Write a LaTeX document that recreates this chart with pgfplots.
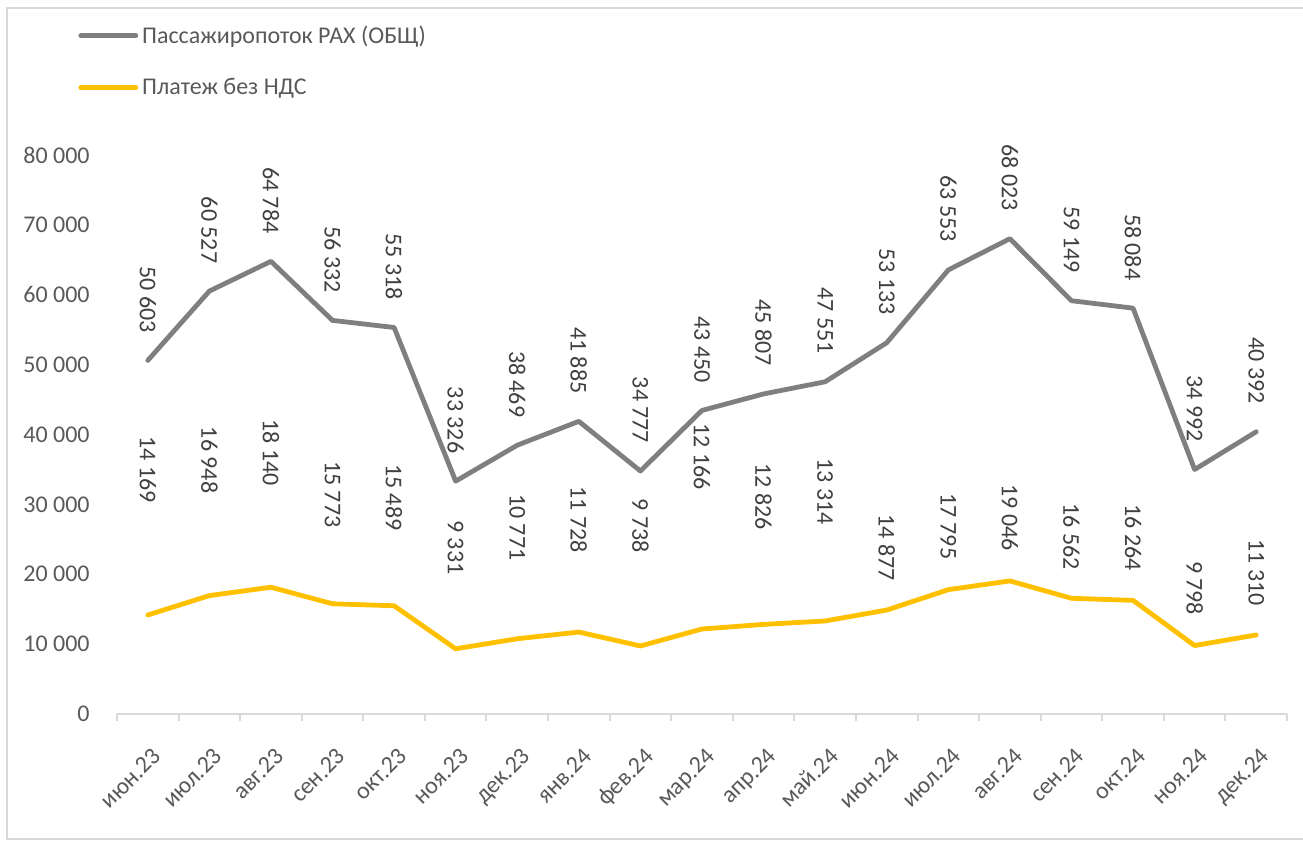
\documentclass[border=0pt]{standalone}
\usepackage{fontspec}
\setmainfont{Carlito}
\usepackage{pgfplots}
\usepackage{pgfplotstable}
\pgfplotsset{compat=1.18}
\definecolor{grayline}{HTML}{7F7F7F}
\definecolor{yellowline}{HTML}{FFC000}
\definecolor{ticktext}{HTML}{595959}
\definecolor{labeltext}{HTML}{404040}
\definecolor{axisgray}{HTML}{D9D9D9}
\pgfplotsset{/pgf/number format/.cd, 1000 sep={\ }, assume math mode=true}
\pgfplotstableread{
x g goff p poff
0 50603 12.75 14169 55
1 60527 12.75 16948 50
2 64784 12.75 18140 49.5
3 56332 12.75 15773 37
4 55318 12.75 15489 36.5
5 33326 12.75 9331 36
6 38469 12.75 10771 38
7 41885 12.75 11728 38.5
8 34777 12.75 9738 45.5
9 43450 12.75 12166 68.5
10 45807 12.75 12826 46
11 47551 12.75 13314 47
12 53133 12.75 14877 13.5
13 63553 12.75 17795 14
14 68023 12.75 19046 14
15 59149 12.75 16562 13
16 58084 12.75 16264 13.5
17 34992 12.75 9798 14
18 40392 12.75 11310 13.5
}\datatable
\begin{document}
\begin{tikzpicture}
\path[use as bounding box] (-58.5pt,-64.5pt) rectangle (593pt,357pt);
\draw[axisgray, line width=1pt] (-55pt,-62.5pt) rectangle (600pt,353pt);
\begin{axis}[
  at={(0,0)}, anchor=south west,
  width=585pt, height=279.5pt, scale only axis,
  xmin=-0.5, xmax=18.5, ymin=0, ymax=80000,
  axis x line*=bottom, axis y line*=left,
  x axis line style={draw=axisgray, line width=1pt},
  y axis line style={draw=none},
  xtick={0,...,18},
  xticklabels={июн.23,июл.23,авг.23,сен.23,окт.23,ноя.23,дек.23,янв.24,фев.24,мар.24,апр.24,май.24,июн.24,июл.24,авг.24,сен.24,окт.24,ноя.24,дек.24},
  minor xtick={-0.5,0.5,...,18.5},
  ytick={0,10000,...,80000},
  scaled y ticks=false,
  major tick length=0pt,
  minor tick length=3.5pt,
  tick align=outside,
  minor tick style={draw=axisgray, line width=1pt},
  major tick style={draw=none},
  ytick style={draw=none},
  tick label style={font=\fontsize{12pt}{14pt}\selectfont, text=ticktext},
  yticklabel style={anchor=east, inner sep=0pt, xshift=-13.5pt},
  xticklabel style={inner sep=0pt, xshift=1.5pt, yshift=-16pt, rotate=45, anchor=north east},
  every node near coord/.style={yshift=\myoff pt, rotate=-90, anchor=east, inner sep=0pt, font=\fontsize{12pt}{14pt}\selectfont, text=labeltext},
  legend cell align=left,
  legend image code/.code={\draw[#1] (0pt,0pt) -- (27.5pt,0pt);},
  legend style={draw=none, fill=none, at={(-0.0333,1.2394)}, anchor=north west, inner sep=0pt, row sep=12pt, font=\fontsize{12pt}{14pt}\selectfont, text=ticktext},
]
\addplot[grayline, line width=2.4pt, line join=round, line cap=round, mark=none, nodes near coords,
  visualization depends on={\thisrow{goff} \as \myoff}] table[x=x, y=g] {\datatable};
\addlegendentry{Пассажиропоток РАХ (ОБЩ)}
\addplot[yellowline, line width=2.4pt, line join=round, line cap=round, mark=none, nodes near coords,
  visualization depends on={\thisrow{poff} \as \myoff}] table[x=x, y=p] {\datatable};
\addlegendentry{Платеж без НДС}
\end{axis}
\end{tikzpicture}
\end{document}
